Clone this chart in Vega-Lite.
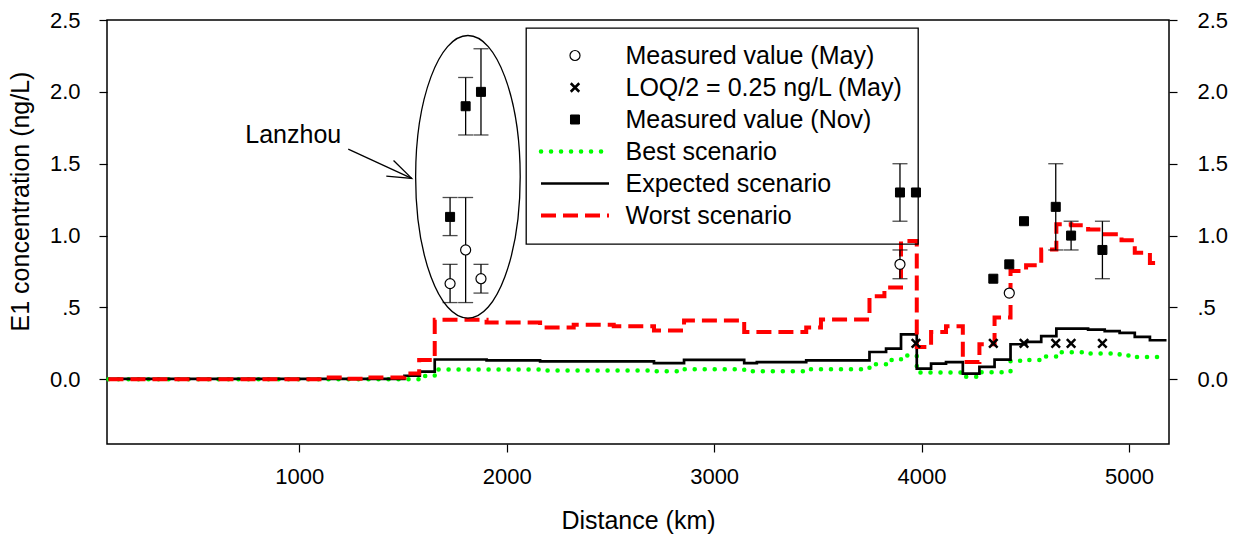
{
  "$schema": "https://vega.github.io/schema/vega-lite/v6.json",
  "width": 1062,
  "height": 424,
  "autosize": "none",
  "padding": {"left": 107, "top": 20, "right": 68, "bottom": 95},
  "background": "white",
  "config": {
    "font": "Liberation Sans",
    "view": {"stroke": "black", "strokeWidth": 1.5},
    "axis": {"grid": false, "domain": false, "tickColor": "black", "tickWidth": 1.2, "tickSize": 8, "labelColor": "black", "titleColor": "black", "labelFontSize": 22, "titleFontSize": 25, "titleFontWeight": "normal", "labelFont": "Liberation Sans", "titleFont": "Liberation Sans"}
  },
  "datasets": {
    "best": [
      {"series": "Best scenario", "km": 80, "val": 0.0},
      {"series": "Best scenario", "km": 1578, "val": 0.023},
      {"series": "Best scenario", "km": 1653, "val": 0.069},
      {"series": "Best scenario", "km": 2161, "val": 0.062},
      {"series": "Best scenario", "km": 2710, "val": 0.056},
      {"series": "Best scenario", "km": 2855, "val": 0.07},
      {"series": "Best scenario", "km": 3145, "val": 0.057},
      {"series": "Best scenario", "km": 3444, "val": 0.07},
      {"series": "Best scenario", "km": 3749, "val": 0.105},
      {"series": "Best scenario", "km": 3829, "val": 0.135},
      {"series": "Best scenario", "km": 3901, "val": 0.165},
      {"series": "Best scenario", "km": 3977, "val": 0.048},
      {"series": "Best scenario", "km": 4199, "val": 0.018},
      {"series": "Best scenario", "km": 4279, "val": 0.05},
      {"series": "Best scenario", "km": 4429, "val": 0.13},
      {"series": "Best scenario", "km": 4504, "val": 0.135},
      {"series": "Best scenario", "km": 4577, "val": 0.158},
      {"series": "Best scenario", "km": 4650, "val": 0.188},
      {"series": "Best scenario", "km": 4803, "val": 0.18},
      {"series": "Best scenario", "km": 4955, "val": 0.165},
      {"series": "Best scenario", "km": 5028, "val": 0.155},
      {"series": "Best scenario", "km": 5150, "val": 0.15}
    ],
    "expected": [
      {"series": "Expected scenario", "km": 80, "val": 0.003},
      {"series": "Expected scenario", "km": 1507, "val": 0.025},
      {"series": "Expected scenario", "km": 1581, "val": 0.053},
      {"series": "Expected scenario", "km": 1653, "val": 0.138},
      {"series": "Expected scenario", "km": 1903, "val": 0.132},
      {"series": "Expected scenario", "km": 2161, "val": 0.125},
      {"series": "Expected scenario", "km": 2710, "val": 0.112},
      {"series": "Expected scenario", "km": 2855, "val": 0.136},
      {"series": "Expected scenario", "km": 3145, "val": 0.112},
      {"series": "Expected scenario", "km": 3206, "val": 0.12},
      {"series": "Expected scenario", "km": 3444, "val": 0.132},
      {"series": "Expected scenario", "km": 3749, "val": 0.19},
      {"series": "Expected scenario", "km": 3829, "val": 0.213},
      {"series": "Expected scenario", "km": 3901, "val": 0.313},
      {"series": "Expected scenario", "km": 3977, "val": 0.074},
      {"series": "Expected scenario", "km": 4046, "val": 0.109},
      {"series": "Expected scenario", "km": 4118, "val": 0.12},
      {"series": "Expected scenario", "km": 4199, "val": 0.04},
      {"series": "Expected scenario", "km": 4279, "val": 0.086},
      {"series": "Expected scenario", "km": 4352, "val": 0.137},
      {"series": "Expected scenario", "km": 4429, "val": 0.244},
      {"series": "Expected scenario", "km": 4504, "val": 0.26},
      {"series": "Expected scenario", "km": 4577, "val": 0.3},
      {"series": "Expected scenario", "km": 4650, "val": 0.353},
      {"series": "Expected scenario", "km": 4803, "val": 0.346},
      {"series": "Expected scenario", "km": 4883, "val": 0.335},
      {"series": "Expected scenario", "km": 4955, "val": 0.323},
      {"series": "Expected scenario", "km": 5028, "val": 0.295},
      {"series": "Expected scenario", "km": 5101, "val": 0.272},
      {"series": "Expected scenario", "km": 5181, "val": 0.272}
    ],
    "worst": [
      {"series": "Worst scenario", "km": 80, "val": 0.0},
      {"series": "Worst scenario", "km": 1120, "val": 0.012},
      {"series": "Worst scenario", "km": 1220, "val": 0.004},
      {"series": "Worst scenario", "km": 1330, "val": 0.012},
      {"series": "Worst scenario", "km": 1507, "val": 0.04},
      {"series": "Worst scenario", "km": 1578, "val": 0.135},
      {"series": "Worst scenario", "km": 1653, "val": 0.415},
      {"series": "Worst scenario", "km": 1903, "val": 0.395},
      {"series": "Worst scenario", "km": 2161, "val": 0.36},
      {"series": "Worst scenario", "km": 2323, "val": 0.38},
      {"series": "Worst scenario", "km": 2516, "val": 0.37},
      {"series": "Worst scenario", "km": 2710, "val": 0.34},
      {"series": "Worst scenario", "km": 2855, "val": 0.41},
      {"series": "Worst scenario", "km": 3145, "val": 0.33},
      {"series": "Worst scenario", "km": 3444, "val": 0.36},
      {"series": "Worst scenario", "km": 3515, "val": 0.416},
      {"series": "Worst scenario", "km": 3749, "val": 0.578},
      {"series": "Worst scenario", "km": 3821, "val": 0.638},
      {"series": "Worst scenario", "km": 3901, "val": 0.963},
      {"series": "Worst scenario", "km": 3977, "val": 0.225},
      {"series": "Worst scenario", "km": 4046, "val": 0.33},
      {"series": "Worst scenario", "km": 4118, "val": 0.37},
      {"series": "Worst scenario", "km": 4199, "val": 0.12},
      {"series": "Worst scenario", "km": 4279, "val": 0.244},
      {"series": "Worst scenario", "km": 4352, "val": 0.43},
      {"series": "Worst scenario", "km": 4429, "val": 0.754},
      {"series": "Worst scenario", "km": 4504, "val": 0.794},
      {"series": "Worst scenario", "km": 4577, "val": 0.903},
      {"series": "Worst scenario", "km": 4650, "val": 1.079},
      {"series": "Worst scenario", "km": 4722, "val": 1.072},
      {"series": "Worst scenario", "km": 4803, "val": 1.042},
      {"series": "Worst scenario", "km": 4883, "val": 1.01},
      {"series": "Worst scenario", "km": 4964, "val": 0.968},
      {"series": "Worst scenario", "km": 5028, "val": 0.88},
      {"series": "Worst scenario", "km": 5101, "val": 0.81},
      {"series": "Worst scenario", "km": 5150, "val": 0.81}
    ],
    "err": [
      {"km": 1727, "lo": 0.534, "hi": 0.8},
      {"km": 1727, "lo": 1.0, "hi": 1.265},
      {"km": 1802, "lo": 0.534, "hi": 1.265},
      {"km": 1802, "lo": 1.7, "hi": 2.1},
      {"km": 1876, "lo": 0.6, "hi": 0.8},
      {"km": 1876, "lo": 1.7, "hi": 2.3},
      {"km": 3896, "lo": 0.7, "hi": 0.9},
      {"km": 3896, "lo": 1.1, "hi": 1.5},
      {"km": 4647, "lo": 0.9, "hi": 1.5},
      {"km": 4721, "lo": 0.9, "hi": 1.1},
      {"km": 4872, "lo": 0.7, "hi": 1.1}
    ],
    "may": [
      {"series": "Measured value (May)", "km": 1727, "val": 0.666},
      {"series": "Measured value (May)", "km": 1802, "val": 0.9},
      {"series": "Measured value (May)", "km": 1876, "val": 0.7},
      {"series": "Measured value (May)", "km": 3896, "val": 0.8},
      {"series": "Measured value (May)", "km": 4423, "val": 0.6}
    ],
    "loq": [
      {"series": "LOQ/2 = 0.25 ng/L (May)", "km": 3973, "val": 0.25},
      {"series": "LOQ/2 = 0.25 ng/L (May)", "km": 4346, "val": 0.25},
      {"series": "LOQ/2 = 0.25 ng/L (May)", "km": 4494, "val": 0.25},
      {"series": "LOQ/2 = 0.25 ng/L (May)", "km": 4647, "val": 0.25},
      {"series": "LOQ/2 = 0.25 ng/L (May)", "km": 4721, "val": 0.25},
      {"series": "LOQ/2 = 0.25 ng/L (May)", "km": 4872, "val": 0.25}
    ],
    "nov": [
      {"series": "Measured value (Nov)", "km": 1727, "val": 1.13},
      {"series": "Measured value (Nov)", "km": 1802, "val": 1.9},
      {"series": "Measured value (Nov)", "km": 1876, "val": 2.0},
      {"series": "Measured value (Nov)", "km": 3896, "val": 1.3},
      {"series": "Measured value (Nov)", "km": 3973, "val": 1.3},
      {"series": "Measured value (Nov)", "km": 4346, "val": 0.7},
      {"series": "Measured value (Nov)", "km": 4423, "val": 0.8},
      {"series": "Measured value (Nov)", "km": 4494, "val": 1.1},
      {"series": "Measured value (Nov)", "km": 4647, "val": 1.2},
      {"series": "Measured value (Nov)", "km": 4721, "val": 1.0},
      {"series": "Measured value (Nov)", "km": 4872, "val": 0.9}
    ],
    "ellipse": [{"km": 1813, "val": 1.409}],
    "label": [{"km": 971, "val": 1.70, "text": "Lanzhou"}],
    "arrow": [{"km": 1236, "val": 1.602, "km2": 1542, "val2": 1.398}]
  },
  "resolve": {"axis": {"y": "independent"}},
  "layer": [
    {
      "data": {"name": "best"},
      "mark": {"type": "line", "interpolate": "step-after", "strokeWidth": 4.5, "strokeDash": [0.1, 9.9], "strokeCap": "round"},
      "encoding": {
        "x": {"field": "km", "type": "quantitative", "scale": {"domain": [73, 5193], "nice": false, "zero": false},
              "axis": {"values": [1000, 2000, 3000, 4000, 5000], "format": "d", "labelPadding": 14, "title": "Distance (km)", "titleY": 76, "titleBaseline": "middle"}},
        "y": {"field": "val", "type": "quantitative", "scale": {"domain": [-0.45, 2.5], "nice": false, "zero": false},
              "axis": {"orient": "left", "values": [0, 0.5, 1, 1.5, 2, 2.5], "labelExpr": "datum.value === 0.5 ? '.5' : format(datum.value, '.1f')", "labelPadding": 19, "title": "E1 concentration (ng/L)", "titleX": -87, "titleY": 181, "titleAlign": "center", "titleBaseline": "middle", "titleAngle": 270}},
        "stroke": {"field": "series", "type": "nominal",
                   "scale": {"domain": ["Measured value (May)", "LOQ/2 = 0.25 ng/L (May)", "Measured value (Nov)", "Best scenario", "Expected scenario", "Worst scenario"], "range": ["black", "black", "black", "#00ff00", "black", "#ff0000"]},
                   "legend": {"orient": "none", "legendX": 419, "legendY": 8, "title": null, "padding": 15, "rowPadding": 6, "symbolSize": 289, "symbolOffset": 21.5, "labelOffset": 38, "labelFontSize": 25, "labelFont": "Liberation Sans", "labelColor": "black", "labelLimit": 500, "strokeColor": "black", "symbolStrokeWidth": 2,
                     "encode": {
                       "symbols": {"update": {
                         "shape": {"signal": "datum.value === 'Measured value (May)' ? 'M-0.59,0A0.59,0.59 0 1,0 0.59,0A0.59,0.59 0 1,0 -0.59,0' : datum.value === 'LOQ/2 = 0.25 ng/L (May)' ? 'M-0.5,-0.5L0.5,0.5M-0.5,0.5L0.5,-0.5' : datum.value === 'Measured value (Nov)' ? 'M-0.53,-0.53H0.53V0.53H-0.53Z' : 'M-4,0H4'"},
                         "fill": {"signal": "datum.value === 'Measured value (Nov)' ? 'black' : 'transparent'"},
                         "strokeDash": {"signal": "datum.value === 'Best scenario' ? [0.1, 9.9] : datum.value === 'Worst scenario' ? [15, 7] : null"},
                         "strokeCap": {"signal": "datum.value === 'Best scenario' ? 'round' : 'butt'"},
                         "strokeWidth": {"signal": "datum.value === 'Measured value (May)' ? 1.2 : datum.value === 'LOQ/2 = 0.25 ng/L (May)' ? 2.5 : datum.value === 'Measured value (Nov)' ? 1 : datum.value === 'Best scenario' ? 4.5 : datum.value === 'Expected scenario' ? 2.7 : 4"},
                         "opacity": {"value": 1}
                       }},
                       "legend": {"update": {"strokeWidth": {"value": 1.3}}}
                     }}}
      }
    },
    {
      "data": {"name": "expected"},
      "mark": {"type": "line", "interpolate": "step-after", "strokeWidth": 2.7},
      "encoding": {
        "x": {"field": "km", "type": "quantitative"},
        "y": {"field": "val", "type": "quantitative",
              "axis": {"orient": "right", "values": [0, 0.5, 1, 1.5, 2, 2.5], "labelExpr": "datum.value === 0.5 ? '.5' : format(datum.value, '.1f')", "labelPadding": 20, "title": null}},
        "stroke": {"field": "series", "type": "nominal"}
      }
    },
    {
      "data": {"name": "worst"},
      "mark": {"type": "line", "interpolate": "step-after", "strokeWidth": 4, "strokeDash": [15, 7]},
      "encoding": {
        "x": {"field": "km", "type": "quantitative"},
        "y": {"field": "val", "type": "quantitative", "axis": null},
        "stroke": {"field": "series", "type": "nominal"}
      }
    },
    {
      "data": {"name": "err"},
      "mark": {"type": "errorbar", "ticks": {"size": 15, "color": "black"}, "color": "black", "thickness": 1.3},
      "encoding": {
        "x": {"field": "km", "type": "quantitative"},
        "y": {"field": "lo", "type": "quantitative", "axis": null},
        "y2": {"field": "hi"}
      }
    },
    {
      "data": {"name": "may"},
      "mark": {"type": "point", "shape": "M-0.59,0A0.59,0.59 0 1,0 0.59,0A0.59,0.59 0 1,0 -0.59,0", "size": 289, "strokeWidth": 1.2, "filled": false, "opacity": 1, "fill": "white"},
      "encoding": {
        "x": {"field": "km", "type": "quantitative"},
        "y": {"field": "val", "type": "quantitative", "axis": null},
        "stroke": {"field": "series", "type": "nominal"}
      }
    },
    {
      "data": {"name": "loq"},
      "mark": {"type": "point", "shape": "M-0.5,-0.5L0.5,0.5M-0.5,0.5L0.5,-0.5", "size": 289, "strokeWidth": 2.5, "filled": false, "opacity": 1},
      "encoding": {
        "x": {"field": "km", "type": "quantitative"},
        "y": {"field": "val", "type": "quantitative", "axis": null},
        "stroke": {"field": "series", "type": "nominal"}
      }
    },
    {
      "data": {"name": "nov"},
      "mark": {"type": "point", "shape": "M-0.53,-0.53H0.53V0.53H-0.53Z", "size": 289, "strokeWidth": 1, "fill": "black", "opacity": 1},
      "encoding": {
        "x": {"field": "km", "type": "quantitative"},
        "y": {"field": "val", "type": "quantitative", "axis": null},
        "stroke": {"field": "series", "type": "nominal"}
      }
    },
    {
      "data": {"name": "ellipse"},
      "mark": {"type": "point", "shape": "M0,-1A0.37,1 0 1,0 0,1A0.37,1 0 1,0 0,-1", "size": 79863, "stroke": "black", "strokeWidth": 1.3, "filled": false, "opacity": 1},
      "encoding": {
        "x": {"field": "km", "type": "quantitative"},
        "y": {"field": "val", "type": "quantitative", "axis": null}
      }
    },
    {
      "data": {"name": "label"},
      "mark": {"type": "text", "fontSize": 25, "align": "center", "baseline": "middle", "color": "black", "font": "Liberation Sans"},
      "encoding": {
        "x": {"field": "km", "type": "quantitative"},
        "y": {"field": "val", "type": "quantitative", "axis": null},
        "text": {"field": "text"}
      }
    },
    {
      "data": {"name": "arrow"},
      "mark": {"type": "rule", "color": "black", "strokeWidth": 1.3},
      "encoding": {
        "x": {"field": "km", "type": "quantitative"},
        "y": {"field": "val", "type": "quantitative", "axis": null},
        "x2": {"field": "km2"},
        "y2": {"field": "val2"}
      }
    },
    {
      "data": {"name": "arrow"},
      "mark": {"type": "point", "shape": "M-1,-0.36L0,0L-1,0.36", "size": 2304, "angle": 24.8, "stroke": "black", "strokeWidth": 1.3, "filled": false, "opacity": 1},
      "encoding": {
        "x": {"field": "km2", "type": "quantitative"},
        "y": {"field": "val2", "type": "quantitative", "axis": null}
      }
    }
  ]
}
